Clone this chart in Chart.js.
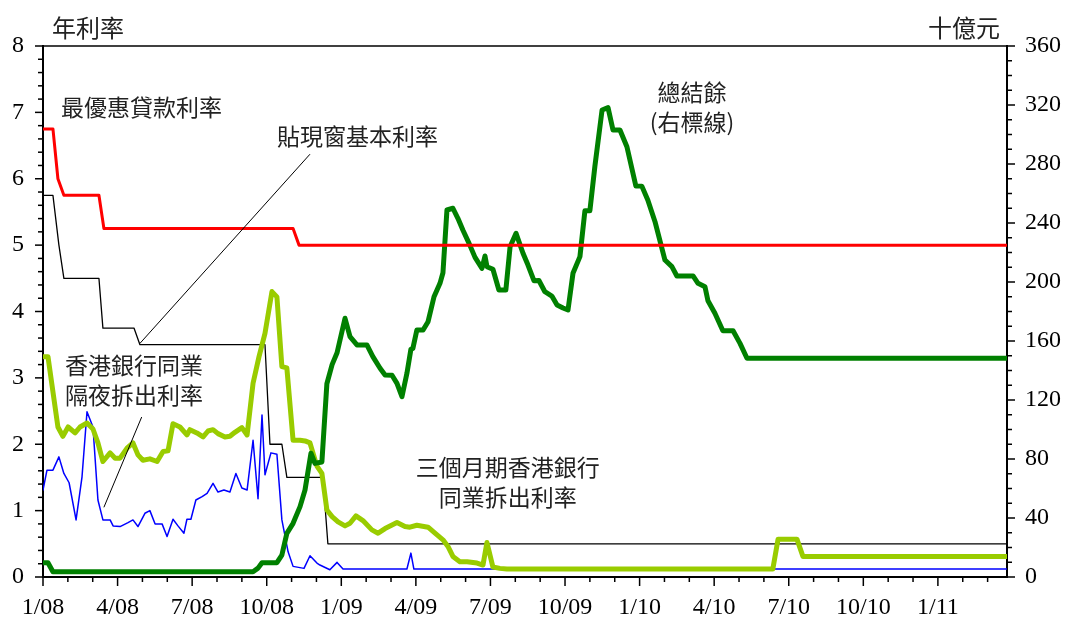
<!DOCTYPE html>
<html lang="zh-Hant">
<head>
<meta charset="utf-8">
<title>利率與總結餘</title>
<script src="https://cdn.jsdelivr.net/npm/chart.js@4.4.1/dist/chart.umd.min.js"></script>
<style>
    html, body { margin: 0; padding: 0; background: #fff; }
    canvas { display: block; }
</style>
</head>
<body>
<canvas id="rateChart" width="1067" height="617"></canvas>
<script>
// x 軸以月份計 (0 = 2008年1月)
const quarterTicks = [0, 3, 6, 9, 12, 15, 18, 21, 24, 27, 30, 33, 36];
const quarterLabels = ["1/08", "4/08", "7/08", "10/08", "1/09", "4/09", "7/09", "10/09", "1/10", "4/10", "7/10", "10/10", "1/11"];
const lastMonth = 38.78;

// 最優惠貸款利率
const primeMonths = [0, 0.40, 0.60, 0.84, 2.25, 2.45, 10.06, 10.30, 38.78];
const primeRates  = [6.75, 6.75, 6.0, 5.75, 5.75, 5.25, 5.25, 5.0, 5.0];

// 貼現窗基本利率
const baseMonths = [0, 0.40, 0.64, 0.84, 2.25, 2.41, 3.66, 3.90, 8.93, 9.13, 9.61, 9.81, 11.26, 11.46, 38.78];
const baseRates  = [5.75, 5.75, 5.0, 4.5, 4.5, 3.75, 3.75, 3.5, 3.5, 2.0, 2.0, 1.5, 1.5, 0.5, 0.5];

// 香港銀行同業隔夜拆出利率
const overnightMonths = [0, 0.16, 0.40, 0.64, 0.84, 1.05, 1.33, 1.57, 1.77, 2.01, 2.21, 2.41, 2.70, 2.82, 3.10, 3.42, 3.62, 3.82, 4.10, 4.30,
    4.51, 4.79, 4.99, 5.23, 5.43, 5.67, 5.79, 5.95, 6.15, 6.40, 6.60, 6.84, 7.04, 7.28, 7.52, 7.76, 8.00, 8.21, 8.45, 8.65,
    8.81, 8.93, 9.17, 9.41, 9.61, 9.86, 10.06, 10.50, 10.74, 11.02, 11.14, 11.54, 11.83, 12.07, 14.64, 14.80, 14.92, 38.78];
const overnightRates = [1.31, 1.61, 1.61, 1.81, 1.56, 1.42, 0.86, 1.51, 2.49, 2.26, 1.16, 0.86, 0.86, 0.77, 0.76, 0.82, 0.86, 0.76, 0.96, 1.00,
    0.80, 0.80, 0.61, 0.87, 0.77, 0.66, 0.87, 0.87, 1.16, 1.21, 1.26, 1.41, 1.28, 1.31, 1.28, 1.56, 1.34, 1.31, 2.06, 1.18,
    2.44, 1.54, 1.87, 1.85, 0.86, 0.38, 0.16, 0.13, 0.32, 0.21, 0.18, 0.11, 0.22, 0.12, 0.12, 0.36, 0.12, 0.12];

// 三個月期香港銀行同業拆出利率
const threeMonthMonths = [0, 0.20, 0.60, 0.80, 1.01, 1.29, 1.49, 1.77, 2.01, 2.21, 2.41, 2.70, 2.90, 3.10, 3.38, 3.62, 3.82, 4.02, 4.30, 4.59,
    4.83, 5.03, 5.23, 5.51, 5.79, 5.91, 6.19, 6.44, 6.64, 6.84, 7.04, 7.32, 7.52, 7.72, 8.00, 8.21, 8.45, 8.69, 8.93, 9.21,
    9.41, 9.61, 9.81, 10.06, 10.34, 10.54, 10.74, 11.02, 11.22, 11.42, 11.63, 11.87, 12.15, 12.35, 12.59, 12.87, 13.23, 13.48, 13.76, 14.24,
    14.56, 14.76, 15.04, 15.49, 15.77, 16.09, 16.29, 16.49, 16.77, 17.06, 17.46, 17.70, 17.86, 18.10, 18.38, 18.66, 29.36, 29.57, 30.33, 30.57,
    38.78];
const threeMonthRates = [3.32, 3.32, 2.26, 2.12, 2.26, 2.17, 2.26, 2.32, 2.23, 2.02, 1.74, 1.87, 1.79, 1.79, 1.94, 2.02, 1.84, 1.76, 1.78, 1.74,
    1.89, 1.90, 2.31, 2.26, 2.14, 2.22, 2.17, 2.11, 2.20, 2.22, 2.16, 2.11, 2.12, 2.18, 2.25, 2.14, 2.92, 3.32, 3.67, 4.30,
    4.22, 3.17, 3.15, 2.06, 2.06, 2.05, 2.02, 1.67, 1.56, 1.01, 0.91, 0.83, 0.77, 0.81, 0.92, 0.85, 0.71, 0.66, 0.73, 0.82,
    0.76, 0.75, 0.78, 0.75, 0.66, 0.56, 0.46, 0.31, 0.23, 0.23, 0.21, 0.18, 0.52, 0.15, 0.13, 0.12, 0.12, 0.57, 0.57, 0.31,
    0.31];

// 總結餘 (十億元, 右標線)
const balanceMonths = [0, 0.20, 0.40, 8.45, 8.65, 8.81, 9.41, 9.61, 9.81, 10.06, 10.34, 10.54, 10.78, 10.94, 11.22, 11.42, 11.63, 11.83, 12.15, 12.35,
    12.63, 13.03, 13.27, 13.56, 13.76, 14.04, 14.24, 14.44, 14.64, 14.80, 14.88, 15.04, 15.29, 15.49, 15.73, 15.97, 16.09, 16.25, 16.49, 16.69,
    16.89, 17.14, 17.38, 17.66, 17.78, 17.86, 18.10, 18.34, 18.62, 18.79, 19.03, 19.31, 19.51, 19.75, 19.95, 20.19, 20.47, 20.68, 20.92, 21.12,
    21.32, 21.60, 21.80, 22.00, 22.20, 22.49, 22.73, 22.93, 23.21, 23.49, 23.85, 24.09, 24.33, 24.62, 25.02, 25.30, 25.50, 26.15, 26.35, 26.63,
    26.75, 27.03, 27.35, 27.76, 28.04, 28.32, 38.78];
const balanceValues = [9.7, 9.7, 3.6, 3.6, 6, 9.7, 9.7, 14.9, 29.6, 36.4, 47.7, 59, 83.9, 77, 78, 131, 144, 152, 175.4, 162.9,
    157.3, 157.3, 149.4, 141.5, 137, 136.8, 131.3, 122.2, 138.1, 154.4, 155, 167.5, 167.5, 173.1, 190, 199.1, 206.3, 248.8, 250, 243.2,
    235.3, 226.2, 216.7, 209.3, 217.6, 210.4, 208.6, 194.6, 194.6, 223.9, 233, 219.5, 211.5, 200.9, 201, 193.4, 190.5, 184.4, 182.4, 181,
    205.9, 217.2, 248.3, 248.3, 278.2, 316.6, 318.2, 303, 303, 291.7, 265.1, 265, 255.6, 240.9, 214.9, 210.4, 204.1, 204.1, 199.1, 196.8,
    187.3, 178.8, 167, 167, 158.4, 148.3, 148.3];

// 圖內說明文字 (以月份 / 年利率定位)
const noteTexts  = [["最優惠貸款利率"], ["貼現窗基本利率"], ["香港銀行同業", "隔夜拆出利率"], ["三個月期香港銀行", "同業拆出利率"], ["總結餘", "(右標線)"]];
const noteMonths = [0.72, 9.41, 0.88, 18.70, 26.11];
const noteRates  = [7.08, 6.64, 3.19, 1.66, 7.30];
const noteAlign  = ["left", "left", "left", "center", "center"];
// 指示線: [月份1, 利率1, 月份2, 利率2]
const leaderLines = [[10.74, 6.37, 3.90, 3.52], [3.97, 2.41, 2.45, 1.05]];

const serif = "'Liberation Serif', 'Times New Roman', serif";
const cjk = "'Noto Sans CJK TC', 'Noto Sans CJK SC', sans-serif";

/** 將月份與數值組成 {x, y} 點 */
function toPoints(months, values) {
    return months.map((m, i) => ({ x: m, y: values[i] }));
}

function strokeLine(ctx, x1, y1, x2, y2) {
    ctx.beginPath();
    ctx.moveTo(x1, y1);
    ctx.lineTo(x2, y2);
    ctx.stroke();
}

// 框線、細刻度與說明文字
const decorPlugin = {
    id: "decor",
    afterDraw(chart) {
        const { ctx, chartArea: a, scales } = chart;
        const x = scales.x, y = scales.y, y1 = scales.y1;
        ctx.save();
        ctx.strokeStyle = "#000";
        ctx.lineWidth = 1.5;
        strokeLine(ctx, a.left, a.top, a.right, a.top);

        // 左軸刻度
        for (let i = 0; i <= 40; i++) {
            const p = y.getPixelForValue(i * 0.2);
            strokeLine(ctx, a.left - (i % 5 === 0 ? 8 : 5), p, a.left, p);
        }
        // 右軸刻度
        for (let i = 0; i <= 36; i++) {
            const p = y1.getPixelForValue(i * 10);
            strokeLine(ctx, a.right, p, a.right + (i % 4 === 0 ? 8 : 5), p);
        }
        // 月份刻度
        for (let m = 0; m <= Math.floor(lastMonth); m++) {
            const p = x.getPixelForValue(m);
            strokeLine(ctx, p, a.bottom, p, a.bottom + (m % 3 === 0 ? 9 : 5));
        }

        // 指示線
        ctx.lineWidth = 1;
        leaderLines.forEach(l => {
            strokeLine(ctx, x.getPixelForValue(l[0]), y.getPixelForValue(l[1]),
                x.getPixelForValue(l[2]), y.getPixelForValue(l[3]));
        });

        // 說明文字
        ctx.fillStyle = "#222";
        ctx.font = "23px " + cjk;
        ctx.textBaseline = "middle";
        noteTexts.forEach((lines, i) => {
            ctx.textAlign = noteAlign[i];
            const px = x.getPixelForValue(noteMonths[i]);
            const py = y.getPixelForValue(noteRates[i]);
            lines.forEach((t, j) => ctx.fillText(t, px, py + j * 30));
        });

        // 軸標題
        ctx.font = "24px " + cjk;
        ctx.textAlign = "left";
        ctx.fillText("年利率", a.left + 9, a.top - 18);
        ctx.textAlign = "right";
        ctx.fillText("十億元", a.right - 7, a.top - 18);
        ctx.restore();
    }
};

function createChart() {
    const ctx = document.getElementById("rateChart");

    new Chart(ctx, {
        type: "line",
        data: {
            datasets: [
                {
                    label: "最優惠貸款利率",
                    data: toPoints(primeMonths, primeRates),
                    borderColor: "#ff0000",
                    borderWidth: 3,
                    yAxisID: "y",
                    order: 0
                },
                {
                    label: "總結餘",
                    data: toPoints(balanceMonths, balanceValues),
                    borderColor: "#008000",
                    borderWidth: 5,
                    yAxisID: "y1",
                    order: 1
                },
                {
                    label: "三個月期香港銀行同業拆出利率",
                    data: toPoints(threeMonthMonths, threeMonthRates),
                    borderColor: "#99cc00",
                    borderWidth: 5,
                    yAxisID: "y",
                    order: 2
                },
                {
                    label: "貼現窗基本利率",
                    data: toPoints(baseMonths, baseRates),
                    borderColor: "#000000",
                    borderWidth: 1.3,
                    yAxisID: "y",
                    order: 3
                },
                {
                    label: "香港銀行同業隔夜拆出利率",
                    data: toPoints(overnightMonths, overnightRates),
                    borderColor: "#0000ff",
                    borderWidth: 1.5,
                    yAxisID: "y",
                    order: 4
                }
            ]
        },
        options: {
            responsive: false,
            animation: false,
            layout: { padding: { top: 46, left: 0, right: 0, bottom: 0 } },
            elements: {
                point: { radius: 0 },
                line: { tension: 0, borderJoinStyle: "round", borderCapStyle: "round" }
            },
            plugins: {
                legend: { display: false },
                tooltip: { enabled: false }
            },
            scales: {
                x: {
                    type: "linear",
                    min: 0,
                    max: lastMonth,
                    afterBuildTicks: scale => {
                        scale.ticks = quarterTicks.map(v => ({ value: v }));
                    },
                    afterFit: scale => { scale.height = 40; },
                    grid: { display: false, drawTicks: false },
                    border: { display: true, color: "#000", width: 2 },
                    ticks: {
                        autoSkip: false,
                        maxRotation: 0,
                        padding: 16,
                        color: "#000",
                        font: { family: serif, size: 24 },
                        callback: value => quarterLabels[quarterTicks.indexOf(value)]
                    }
                },
                y: {
                    position: "left",
                    min: 0,
                    max: 8,
                    afterFit: scale => { scale.width = 43; },
                    grid: { display: false, drawTicks: false },
                    border: { display: true, color: "#000", width: 2 },
                    ticks: {
                        stepSize: 1,
                        padding: 19,
                        color: "#000",
                        font: { family: serif, size: 24 }
                    }
                },
                y1: {
                    position: "right",
                    min: 0,
                    max: 360,
                    afterFit: scale => { scale.width = 60; },
                    grid: { display: false, drawTicks: false },
                    border: { display: true, color: "#000", width: 2 },
                    ticks: {
                        stepSize: 40,
                        padding: 18,
                        color: "#000",
                        font: { family: serif, size: 24 }
                    }
                }
            }
        },
        plugins: [decorPlugin]
    });
}

createChart();
</script>
</body>
</html>
